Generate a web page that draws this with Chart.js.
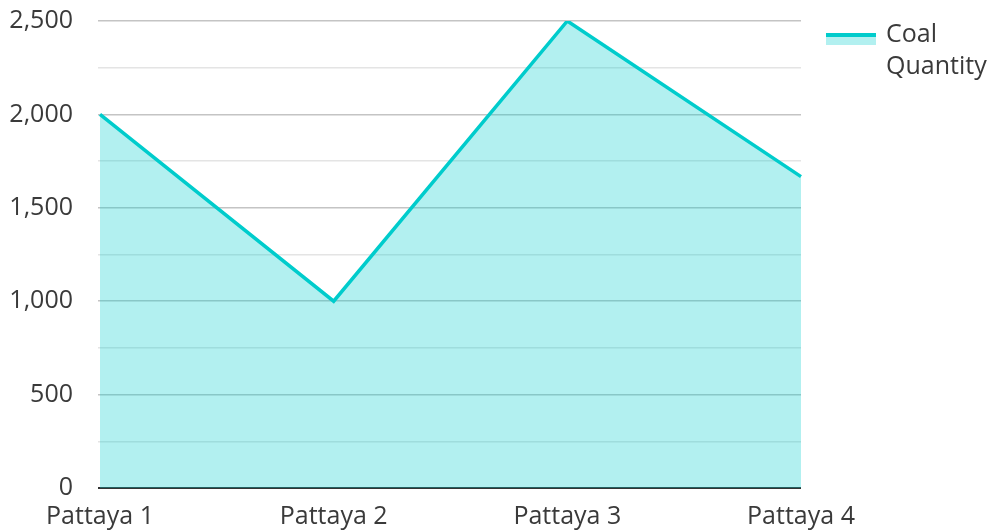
<!DOCTYPE html>
<html>
<head>
<meta charset="utf-8">
<script src="https://cdn.jsdelivr.net/npm/chart.js@4/dist/chart.umd.min.js"></script>
<style>
  html, body { margin: 0; padding: 0; background: #fff; }
  #wrap { width: 990px; height: 531px; position: relative; }
</style>
</head>
<body>
<div id="wrap"><canvas id="c"></canvas></div>
<script>
// data
const categories = ['Pattaya 1', 'Pattaya 2', 'Pattaya 3', 'Pattaya 4'];
const coalQuantity = [2000, 1000, 2500, 1667];
const seriesName = 'Coal Quantity';
const seriesLines = ['Coal', 'Quantity'];

const LINE = '#00cccc';
const FILL = 'rgba(0,204,204,0.3)';
const FONT = { family: 'Open Sans', size: 25 };
const TXT = '#3a3a3a';

// right side legend, two lines of text
const sideLegend = {
  id: 'sideLegend',
  afterDraw(chart) {
    const ctx = chart.ctx;
    const x = 826, y = 33;
    ctx.save();
    ctx.fillStyle = FILL;
    ctx.fillRect(x, y, 50, 12);
    ctx.fillStyle = LINE;
    ctx.fillRect(x, y, 50, 4);
    ctx.fillStyle = TXT;
    ctx.font = '25px "Open Sans"';
    ctx.textBaseline = 'middle';
    seriesLines.forEach((t, i) => ctx.fillText(t, 886, 35 + i * 32));
    ctx.restore();
  }
};

new Chart(document.getElementById('c'), {
  type: 'line',
  data: {
    labels: categories,
    datasets: [{
      label: seriesName,
      data: coalQuantity,
      borderColor: LINE,
      backgroundColor: FILL,
      borderWidth: 3.5,
      fill: 'origin',
      pointRadius: 0,
      tension: 0
    }]
  },
  options: {
    responsive: true,
    maintainAspectRatio: false,
    animation: false,
    layout: { padding: { top: 0, right: 189, bottom: 0, left: 0 } },
    plugins: { legend: { display: false }, tooltip: { enabled: false } },
    scales: {
      x: {
        offset: false,
        afterFit(s) { s.height = 43; },
        grid: { display: false, tickLength: 0 },
        border: { display: false },
        ticks: { font: FONT, color: TXT, padding: 14, maxRotation: 0 }
      },
      y: {
        min: 0, max: 2500,
        afterFit(s) { s.width = 100; s.paddingTop = 21; s.paddingBottom = 0; },
        border: { display: false },
        grid: {
          tickLength: 2,
          color: c => c.tick.value === 0 ? '#333' : (c.tick.value % 500 === 0 ? '#c4c4c4' : '#e4e4e4'),
          lineWidth: c => c.tick.value === 0 ? 2 : 1.5
        },
        ticks: {
          stepSize: 250,
          font: FONT, color: TXT, padding: 25,
          callback: v => v % 500 === 0 ? v.toLocaleString('en-US') : ''
        }
      }
    }
  },
  plugins: [sideLegend]
});
</script>
</body>
</html>
